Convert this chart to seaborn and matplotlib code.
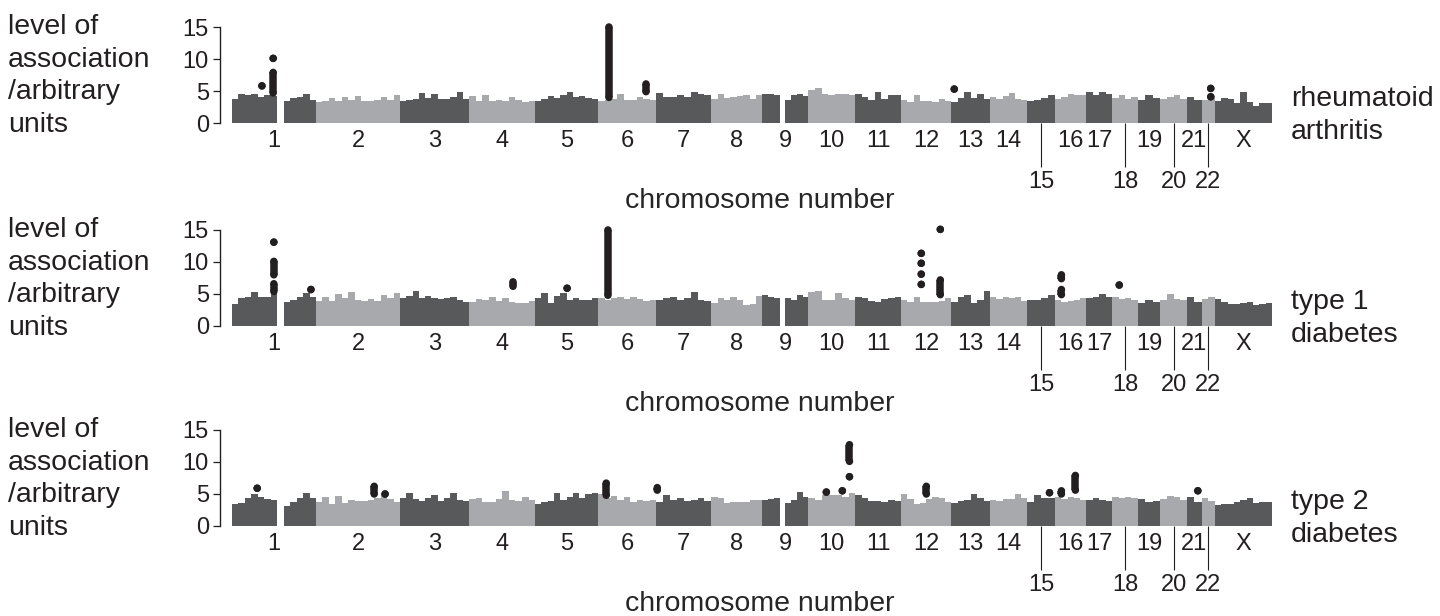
import matplotlib
matplotlib.use("Agg")
import matplotlib.pyplot as plt
import seaborn as sns
import numpy as np
import pandas as pd

# chromosome layout (approx. lengths in Mb as drawn)
chromosomes = ["1", "2", "3", "4", "5", "6", "7", "8", "9", "10", "11", "12",
               "13", "14", "15", "16", "17", "18", "19", "20", "21", "22", "X"]
chrom_length_mb = [247, 247, 203, 194, 185, 171, 162, 150, 135, 138, 135, 147,
                   115, 109, 82, 91, 76, 76, 65, 79, 44, 38, 168]
lower_row = ["15", "18", "20", "22"]

# background association level, one list of windows per chromosome (0 = gap)
ra_background = [
    [3.7, 4.6, 4.4, 4.5, 4.0, 4.3, 4.2, 0, 3.5, 3.9, 4.1, 4.6, 3.6],
    [3.3, 3.5, 3.9, 3.4, 4.0, 3.6, 4.2, 3.5, 3.4, 3.6, 4.1, 3.6, 4.3],
    [3.4, 3.6, 3.7, 4.7, 3.9, 4.6, 3.8, 3.7, 4.0, 4.8, 3.7],
    [4.2, 3.5, 4.3, 3.5, 3.6, 3.5, 4.0, 3.6, 3.3, 3.5],
    [3.4, 3.7, 4.2, 3.9, 4.3, 4.8, 4.1, 4.2, 3.9, 3.8],
    [3.5, 3.6, 3.7, 4.6, 3.6, 3.6, 4.1, 3.7, 3.6],
    [4.7, 4.1, 4.1, 4.3, 4.0, 4.9, 4.5, 4.3],
    [3.7, 4.6, 3.9, 4.0, 4.2, 4.3, 3.8, 4.3],
    [4.6, 4.5, 4.4, 0, 3.6, 4.4, 4.6, 4.2],
    [5.2, 5.4, 4.6, 4.4, 4.6, 4.5, 4.4],
    [4.6, 4.1, 3.6, 4.8, 3.7, 4.4, 4.4],
    [3.6, 3.3, 4.3, 3.5, 3.5, 3.3, 3.8, 3.5],
    [3.3, 3.9, 4.8, 3.9, 4.5, 3.7],
    [4.0, 3.8, 4.2, 4.7, 3.8, 3.6],
    [3.5, 3.6, 3.9, 4.4],
    [3.7, 4.1, 4.6, 4.4, 4.3],
    [4.8, 4.4, 4.9, 4.6],
    [3.9, 4.4, 3.8, 4.0],
    [3.6, 4.4, 3.9],
    [3.7, 4.1, 4.4, 3.8],
    [4.1, 3.6],
    [3.6, 3.9],
    [3.4, 3.9, 3.7, 3.2, 4.9, 3.3, 2.6, 3.1, 3.1],
]
t1d_background = [
    [3.5, 4.3, 4.6, 5.3, 4.5, 4.6, 5.1, 0, 3.8, 4.1, 4.6, 5.2, 4.6],
    [3.9, 4.6, 3.9, 5.0, 4.4, 5.3, 4.1, 3.9, 4.2, 3.9, 4.8, 4.4, 5.2],
    [4.4, 4.7, 5.5, 4.3, 4.7, 4.4, 4.2, 4.3, 4.5, 4.1, 3.8],
    [3.8, 4.2, 4.1, 4.5, 3.9, 4.3, 3.7, 3.6, 3.6, 3.9],
    [4.4, 5.2, 3.6, 4.7, 5.1, 4.0, 4.3, 4.1, 4.0, 4.4],
    [4.4, 4.1, 4.3, 4.6, 4.2, 4.6, 4.2, 3.9, 4.0],
    [4.0, 4.3, 4.6, 4.1, 4.3, 5.3, 4.0, 3.9],
    [3.6, 4.3, 4.0, 4.6, 4.0, 3.3, 3.5, 4.7],
    [4.8, 4.6, 4.3, 0, 4.3, 4.1, 4.8, 4.5],
    [5.3, 5.4, 4.1, 4.0, 5.2, 4.3, 4.1],
    [4.6, 4.4, 3.9, 3.8, 4.2, 4.3, 4.6],
    [4.0, 3.8, 4.5, 3.8, 3.8, 3.8, 3.9, 4.4],
    [3.8, 4.6, 4.8, 3.6, 4.0, 5.5],
    [4.5, 4.2, 4.6, 4.3, 4.6, 3.9],
    [4.1, 4.1, 4.3, 4.8],
    [4.1, 3.7, 3.9, 4.0, 4.3],
    [4.3, 4.6, 5.0, 4.5],
    [4.6, 4.2, 4.3, 4.1],
    [3.6, 4.0, 3.8],
    [4.0, 5.0, 4.2, 4.1],
    [4.5, 3.8],
    [4.2, 4.6],
    [4.2, 3.7, 3.4, 3.4, 3.6, 3.8, 3.3, 3.5, 3.6],
]
t2d_background = [
    [3.5, 3.6, 4.3, 5.0, 4.6, 4.2, 4.1, 0, 3.2, 3.8, 4.4, 5.1, 4.3],
    [3.8, 4.6, 3.5, 4.7, 3.6, 4.1, 3.9, 3.9, 4.1, 4.3, 4.9, 4.2, 3.7],
    [4.3, 5.1, 4.2, 3.9, 4.4, 4.8, 3.9, 4.4, 5.1, 4.0, 3.9],
    [4.2, 4.4, 3.7, 3.8, 4.2, 5.5, 4.0, 3.9, 4.5, 4.0],
    [3.5, 3.8, 3.9, 5.2, 4.1, 4.5, 5.2, 4.3, 5.0, 5.2],
    [5.0, 4.3, 4.7, 4.1, 4.6, 3.8, 4.0, 3.9, 4.0],
    [3.8, 4.8, 4.0, 4.3, 3.9, 4.0, 4.3, 3.9],
    [4.5, 4.3, 3.6, 3.7, 3.8, 3.8, 4.1, 4.0],
    [4.1, 4.2, 4.3, 0, 3.6, 4.0, 5.3, 4.5],
    [4.4, 4.1, 4.8, 4.8, 4.9, 4.6, 5.1],
    [4.8, 4.3, 3.9, 3.9, 3.8, 4.0, 3.9],
    [5.0, 4.2, 3.5, 3.6, 4.2, 4.5, 4.4, 3.8],
    [3.6, 3.9, 4.1, 5.0, 4.3, 3.9],
    [4.1, 3.9, 4.2, 4.2, 5.0, 4.4],
    [3.8, 4.9, 4.3, 4.4],
    [4.5, 4.2, 4.6, 4.3, 4.0],
    [4.0, 4.3, 4.1, 3.9],
    [4.5, 4.3, 4.5, 4.3],
    [4.2, 3.8, 3.9],
    [4.2, 4.7, 4.6, 4.1],
    [4.5, 3.7],
    [4.4, 3.9],
    [3.3, 3.4, 3.5, 3.8, 4.1, 4.4, 3.6, 3.8, 3.7],
]

# associated hits: chromosome, position (Mb), lowest and highest level
ra_hit_chrom = ["1", "1", "1", "6", "6", "13", "22", "22"]
ra_hit_mb = [88, 121, 121, 32, 141, 9, 26, 26]
ra_hit_low = [5.8, 4.7, 10.1, 4.0, 4.9, 5.3, 4.1, 5.4]
ra_hit_high = [5.8, 7.9, 10.1, 15.0, 6.1, 5.3, 4.1, 5.4]

t1d_hit_chrom = ["1", "1", "1", "1", "4", "5", "6", "12", "12", "12", "12",
                 "12", "12", "16", "16", "18"]
t1d_hit_mb = [123, 123, 123, 232, 129, 94, 29, 59, 59, 59, 59, 115, 115, 18, 18, 21]
t1d_hit_low = [13.1, 8.0, 5.4, 5.7, 6.2, 5.9, 4.8, 6.5, 8.1, 9.8, 11.35,
               15.1, 4.9, 7.4, 4.9, 6.4]
t1d_hit_high = [13.1, 10.1, 6.6, 5.7, 6.9, 5.9, 15.0, 6.5, 8.1, 9.8, 11.35,
                15.1, 7.2, 8.0, 5.7, 6.4]

t2d_hit_chrom = ["1", "2", "2", "6", "7", "10", "10", "10", "10", "12", "15",
                 "16", "16", "21"]
t2d_hit_mb = [74, 171, 203, 24, 3, 53, 100, 121, 121, 74, 65, 18, 59, 32]
t2d_hit_low = [5.9, 5.0, 5.0, 4.8, 5.6, 5.3, 5.5, 7.7, 10.1, 5.0, 5.2, 5.0, 5.6, 5.5]
t2d_hit_high = [5.9, 6.2, 5.0, 6.7, 6.0, 5.3, 5.5, 7.7, 12.7, 6.2, 5.2, 5.5, 7.9, 5.5]

DARK = "#58595b"
LIGHT = "#a7a9ac"
INK = "#231f20"

sns.set_style("ticks")
plt.rcParams["font.family"] = ["Liberation Sans", "DejaVu Sans"]
plt.rcParams["text.color"] = INK

W, H = 1440, 616
fig = plt.figure(figsize=(W / 100, H / 100), dpi=100)

offsets = np.concatenate([[0], np.cumsum(chrom_length_mb)[:-1]])
total = sum(chrom_length_mb)
centers = [o + l / 2 for o, l in zip(offsets, chrom_length_mb)]

panels = [
    ("rheumatoid\narthritis", ra_background, ra_hit_chrom, ra_hit_mb, ra_hit_low, ra_hit_high, 123),
    ("type 1\ndiabetes", t1d_background, t1d_hit_chrom, t1d_hit_mb, t1d_hit_low, t1d_hit_high, 326),
    ("type 2\ndiabetes", t2d_background, t2d_hit_chrom, t2d_hit_mb, t2d_hit_low, t2d_hit_high, 526),
]

for trait, background, hit_chrom, hit_mb, hit_low, hit_high, zero_px in panels:
    bottom = 1 - zero_px / H
    height = 96 / H
    ax = fig.add_axes([232 / W, bottom, 1040 / W, height])

    # skyline of background signal
    for i, heights in enumerate(background):
        n = len(heights)
        edges = offsets[i] + chrom_length_mb[i] * np.arange(n + 1) / n
        win = pd.DataFrame({"pos": (edges[:-1] + edges[1:]) / 2, "level": heights})
        color = DARK if i % 2 == 0 else LIGHT
        sns.histplot(data=win, x="pos", weights="level", bins=edges.tolist(), color=color,
                     alpha=1, edgecolor="none", linewidth=0, antialiased=False, ax=ax)

    # hits
    hx = [offsets[chromosomes.index(c)] + m for c, m in zip(hit_chrom, hit_mb)]
    ax.vlines(hx, hit_low, hit_high, colors=INK, linewidth=5.4, zorder=3, clip_on=False)
    sns.scatterplot(x=hx + hx, y=hit_low + hit_high, s=29, color=INK, edgecolor="none",
                    linewidth=0, zorder=4, clip_on=False, legend=False, ax=ax)

    ax.set_xlim(0, total)
    ax.set_ylim(0, 15)
    ax.set_yticks([0, 5, 10, 15])
    ax.set_ylabel("")
    sns.despine(ax=ax, bottom=True, offset={"left": 8.6})
    ax.spines["left"].set_linewidth(1.0)
    ax.spines["left"].set_color(INK)
    ax.tick_params(axis="y", length=5, width=0.9, pad=3, labelsize=17,
                   color=INK, labelcolor=INK)

    upper = [c for c in chromosomes if c not in lower_row]
    ax.set_xticks([centers[chromosomes.index(c)] for c in upper], labels=upper)
    ax.set_xticks([centers[chromosomes.index(c)] for c in lower_row],
                  labels=lower_row, minor=True)
    ax.tick_params(axis="x", which="major", length=0, pad=5, labelsize=17, labelcolor=INK)
    ax.tick_params(axis="x", which="minor", length=32, width=0.8, pad=2.5,
                   labelsize=17, color=INK, labelcolor=INK)

    ax.set_xlabel("chromosome number", fontsize=20.5)
    ax.xaxis.label.set_verticalalignment("center")
    ax.xaxis.set_label_coords((760 - 232) / 1040, -(201 - 123) / 96)

    fig.text(8 / W, bottom + height * 0.49, "level of\nassociation\n/arbitrary\nunits",
             ha="left", va="center", fontsize=20.5, linespacing=1.32)
    fig.text(1291 / W, bottom + height * 0.08, trait,
             ha="left", va="center", fontsize=20.5, linespacing=1.37)

fig.savefig("out.png", dpi=100)
